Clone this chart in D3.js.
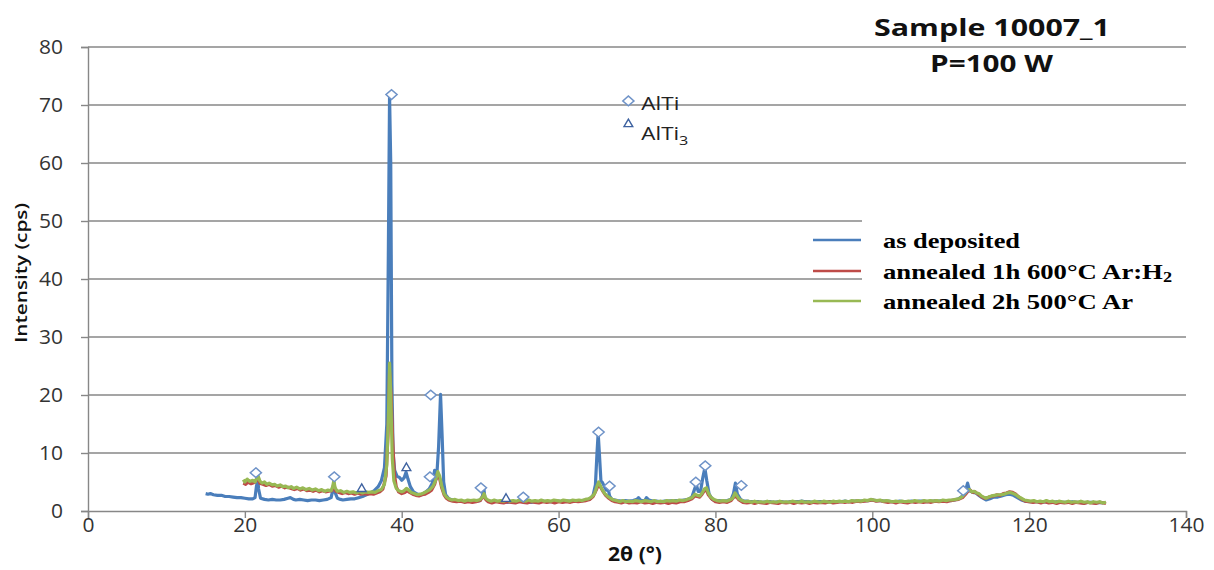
<!DOCTYPE html>
<html>
<head>
<meta charset="utf-8">
<script src="https://cdn.jsdelivr.net/npm/d3@7"></script>
<style>
  html, body { margin: 0; padding: 0; background: #fff; }
  svg { display: block; }
</style>
</head>
<body>
<svg id="chart" width="1214" height="570"></svg>
<script>
// XRD patterns of sample 10007_1 (P = 100 W): [2θ in degrees, intensity in cps]
const asDeposited = [
  [15.0,3.0],[15.3,2.9],[15.6,3.0],[16.0,2.8],[16.5,2.7],[17.0,2.7],[17.5,2.5],[18.0,2.5],[18.5,2.4],[19.0,2.3],
  [19.5,2.3],[20.0,2.2],[20.5,2.1],[21.0,2.1],[21.3,2.3],[21.5,4.5],[21.6,6.4],[21.75,3.8],[22.0,2.2],[22.5,2.0],
  [23.0,1.9],[23.5,2.0],[24.0,1.9],[24.5,1.9],[25.0,2.0],[25.5,2.2],[25.8,2.3],[26.2,2.0],[26.5,1.9],[27.0,2.0],
  [27.5,1.9],[28.0,1.8],[28.5,1.9],[29.0,1.9],[29.5,1.8],[30.0,1.9],[30.5,2.0],[31.0,2.3],[31.2,3.5],[31.35,4.9],
  [31.5,3.2],[31.8,2.2],[32.2,2.0],[32.5,1.9],[33.0,2.0],[33.5,2.1],[34.0,2.1],[34.5,2.3],[35.0,2.5],[35.5,2.8],
  [36.0,3.1],[36.5,3.5],[37.0,4.2],[37.4,5.2],[37.8,7.5],[38.1,15],[38.3,45],[38.45,71.5],[38.6,60],[38.75,22],
  [38.9,10],[39.1,7.0],[39.4,6.0],[39.7,5.8],[40.0,5.3],[40.3,5.7],[40.55,6.7],[40.8,5.5],[41.1,4.2],[41.5,3.3],
  [42.0,2.9],[42.5,2.8],[43.0,3.2],[43.5,3.8],[43.9,4.8],[44.2,7.0],[44.45,5.6],[44.7,11],[44.95,20.1],[45.15,13],
  [45.35,5.0],[45.6,2.8],[46.0,2.1],[46.5,1.9],[47.0,1.8],[47.5,1.7],[48.0,1.6],[48.5,1.7],[49.0,1.6],[49.5,1.7],
  [50.0,1.8],[50.3,2.6],[50.45,4.1],[50.6,2.4],[50.9,1.8],[51.5,1.6],[52.0,1.7],[52.5,1.6],[53.0,1.6],[53.5,1.5],
  [54.0,1.6],[54.5,1.6],[55.0,1.7],[55.5,1.6],[56.0,1.6],[56.5,1.5],[57.0,1.6],[57.5,1.6],[58.0,1.7],[58.5,1.6],
  [59.0,1.6],[59.5,1.6],[60.0,1.7],[60.5,1.6],[61.0,1.7],[61.5,1.7],[62.0,1.7],[62.5,1.8],[63.0,1.8],[63.5,1.9],
  [64.0,2.1],[64.4,2.7],[64.7,4.5],[64.9,10],[65.05,13.4],[65.2,10],[65.4,5.2],[65.6,4.9],[65.85,4.2],[66.1,3.6],
  [66.3,4.0],[66.5,2.6],[66.8,2.0],[67.2,1.9],[67.5,1.8],[68.0,1.7],[68.5,1.8],[69.0,1.7],[69.5,1.8],[70.0,2.0],
  [70.2,2.3],[70.5,1.8],[71.0,1.8],[71.2,2.3],[71.5,1.9],[72.0,1.7],[72.5,1.7],[73.0,1.6],[73.5,1.7],[74.0,1.7],
  [74.5,1.8],[75.0,1.8],[75.5,1.8],[76.0,1.9],[76.5,2.0],[77.0,2.4],[77.3,3.6],[77.55,4.6],[77.8,3.4],[78.1,3.4],
  [78.4,5.8],[78.65,7.4],[78.9,5.2],[79.2,2.9],[79.6,2.0],[80.0,1.8],[80.5,1.8],[81.0,1.7],[81.5,1.8],[82.0,2.0],
  [82.3,3.0],[82.55,4.8],[82.8,2.9],[83.2,2.0],[83.6,1.7],[84.0,1.7],[84.5,1.6],[85.0,1.6],[85.5,1.6],[86.0,1.5],
  [86.5,1.6],[87.0,1.6],[87.5,1.5],[88.0,1.6],[88.5,1.6],[89.0,1.5],[89.5,1.6],[90.0,1.6],[90.5,1.6],[91.0,1.7],
  [91.5,1.6],[92.0,1.6],[92.5,1.5],[93.0,1.6],[93.5,1.6],[94.0,1.5],[94.5,1.6],[95.0,1.6],[95.5,1.6],[96.0,1.6],
  [96.5,1.7],[97.0,1.6],[97.5,1.7],[98.0,1.7],[98.5,1.7],[99.0,1.8],[99.5,1.8],[100.0,1.9],[100.5,1.8],[101.0,1.8],
  [101.5,1.7],[102.0,1.7],[102.5,1.6],[103.0,1.6],[103.5,1.7],[104.0,1.6],[104.5,1.6],[105.0,1.7],[105.5,1.6],[106.0,1.7],
  [106.5,1.7],[107.0,1.6],[107.5,1.7],[108.0,1.7],[108.5,1.7],[109.0,1.8],[109.5,1.8],[110.0,1.8],[110.5,1.9],[111.0,2.1],
  [111.5,2.6],[111.9,3.6],[112.15,4.8],[112.4,3.5],[112.8,3.2],[113.2,3.1],[113.6,2.7],[114.0,2.3],[114.5,1.9],[115.0,2.1],
  [115.5,2.4],[116.0,2.4],[116.5,2.6],[117.0,2.8],[117.5,2.9],[118.0,2.7],[118.5,2.3],[119.0,1.9],[119.5,1.7],[120.0,1.6],
  [120.5,1.6],[121.0,1.6],[121.5,1.5],[122.0,1.6],[122.5,1.5],[123.0,1.5],[123.5,1.6],[124.0,1.5],[124.5,1.5],[125.0,1.5],
  [125.5,1.6],[126.0,1.5],[126.5,1.5],[127.0,1.4],[127.5,1.5],[128.0,1.5],[128.5,1.4],[129.0,1.5],[129.5,1.4]
];

const annealed600ArH2 = [
  [19.8,4.8],[20.1,4.6],[20.4,5.0],[20.8,4.7],[21.2,4.9],[21.5,5.3],[21.7,5.8],[21.9,4.8],[22.3,4.6],[22.7,4.4],
  [23.1,4.6],[23.5,4.3],[23.9,4.4],[24.3,4.1],[24.7,4.3],[25.1,4.0],[25.5,4.1],[25.9,3.9],[26.3,3.7],[26.7,3.9],
  [27.1,3.6],[27.5,3.8],[27.9,3.5],[28.3,3.6],[28.7,3.4],[29.1,3.6],[29.5,3.3],[29.9,3.5],[30.3,3.3],[30.7,3.4],
  [31.1,3.5],[31.35,4.6],[31.6,3.4],[32.0,3.2],[32.4,3.0],[32.8,3.2],[33.2,3.0],[33.6,3.1],[34.0,2.9],[34.4,3.1],
  [34.8,2.9],[35.2,3.0],[35.6,2.9],[36.0,3.0],[36.4,2.9],[36.8,3.1],[37.2,3.3],[37.6,3.8],[38.0,6.0],[38.25,13],
  [38.45,24],[38.65,20],[38.85,12.2],[39.05,6.5],[39.3,4.2],[39.6,3.3],[40.0,3.0],[40.4,3.2],[40.7,3.5],[41.0,3.2],
  [41.4,2.9],[41.8,2.7],[42.2,2.6],[42.6,2.8],[43.0,2.9],[43.4,3.2],[43.8,3.6],[44.2,4.6],[44.55,6.4],[44.8,5.8],
  [45.1,4.0],[45.4,2.8],[45.7,2.2],[46.0,1.9],[46.5,1.7],[47.0,1.6],[47.5,1.7],[48.0,1.5],[48.5,1.6],[49.0,1.5],
  [49.5,1.6],[50.0,1.8],[50.4,2.6],[50.7,2.0],[51.0,1.6],[51.5,1.4],[52.0,1.6],[52.5,1.5],[53.0,1.4],[53.5,1.6],
  [54.0,1.5],[54.5,1.4],[55.0,1.6],[55.5,1.5],[56.0,1.4],[56.5,1.6],[57.0,1.5],[57.5,1.4],[58.0,1.6],[58.5,1.5],
  [59.0,1.6],[59.5,1.4],[60.0,1.6],[60.5,1.5],[61.0,1.6],[61.5,1.5],[62.0,1.7],[62.5,1.6],[63.0,1.7],[63.5,1.8],
  [64.0,2.0],[64.4,2.5],[64.8,3.6],[65.1,4.6],[65.4,4.0],[65.7,3.3],[66.0,2.7],[66.4,2.2],[66.8,1.8],[67.2,1.6],
  [67.6,1.5],[68.0,1.4],[68.5,1.6],[69.0,1.4],[69.5,1.5],[70.0,1.4],[70.5,1.6],[71.0,1.4],[71.5,1.5],[72.0,1.3],
  [72.5,1.5],[73.0,1.4],[73.5,1.5],[74.0,1.3],[74.5,1.5],[75.0,1.4],[75.5,1.6],[76.0,1.6],[76.5,1.8],[77.0,2.1],
  [77.4,2.6],[77.7,2.5],[78.0,2.4],[78.3,2.9],[78.6,3.5],[78.85,3.6],[79.1,2.8],[79.5,2.1],[80.0,1.6],[80.5,1.5],
  [81.0,1.6],[81.5,1.5],[82.0,1.8],[82.4,2.5],[82.7,2.4],[83.0,1.9],[83.5,1.5],[84.0,1.4],[84.5,1.5],[85.0,1.3],
  [85.5,1.5],[86.0,1.4],[86.5,1.3],[87.0,1.5],[87.5,1.4],[88.0,1.3],[88.5,1.5],[89.0,1.4],[89.5,1.5],[90.0,1.3],
  [90.5,1.5],[91.0,1.4],[91.5,1.5],[92.0,1.3],[92.5,1.5],[93.0,1.4],[93.5,1.5],[94.0,1.4],[94.5,1.6],[95.0,1.4],
  [95.5,1.5],[96.0,1.6],[96.5,1.5],[97.0,1.6],[97.5,1.5],[98.0,1.7],[98.5,1.6],[99.0,1.7],[99.5,1.8],[100.0,1.9],
  [100.5,1.7],[101.0,1.8],[101.5,1.6],[102.0,1.5],[102.5,1.6],[103.0,1.4],[103.5,1.6],[104.0,1.5],[104.5,1.4],[105.0,1.6],
  [105.5,1.5],[106.0,1.6],[106.5,1.5],[107.0,1.6],[107.5,1.5],[108.0,1.7],[108.5,1.6],[109.0,1.7],[109.5,1.6],[110.0,1.8],
  [110.5,1.9],[111.0,2.0],[111.5,2.3],[111.9,2.9],[112.2,3.4],[112.5,3.6],[112.8,3.2],[113.1,3.3],[113.5,2.9],[113.9,2.5],
  [114.3,2.2],[114.7,2.3],[115.1,2.5],[115.5,2.6],[115.9,2.8],[116.3,2.7],[116.7,3.0],[117.1,3.1],[117.5,3.3],[117.9,3.2],
  [118.3,2.9],[118.7,2.4],[119.1,2.0],[119.5,1.7],[120.0,1.6],[120.5,1.5],[121.0,1.6],[121.5,1.4],[122.0,1.6],[122.5,1.4],
  [123.0,1.5],[123.5,1.3],[124.0,1.5],[124.5,1.4],[125.0,1.5],[125.5,1.3],[126.0,1.5],[126.5,1.4],[127.0,1.3],[127.5,1.5],
  [128.0,1.4],[128.5,1.3],[129.0,1.5],[129.5,1.4],[129.8,1.3]
];

const annealed500Ar = [
  [19.8,5.4],[20.0,5.0],[20.3,5.5],[20.6,5.1],[21.0,5.3],[21.3,5.0],[21.5,5.6],[21.7,6.0],[21.9,5.2],[22.2,4.8],
  [22.5,5.0],[22.8,4.6],[23.1,4.8],[23.5,4.5],[23.8,4.6],[24.1,4.3],[24.5,4.5],[24.8,4.2],[25.2,4.3],[25.5,4.0],
  [25.9,4.2],[26.2,3.9],[26.6,4.1],[27.0,3.8],[27.4,4.0],[27.8,3.7],[28.2,3.9],[28.6,3.6],[29.0,3.8],[29.4,3.5],
  [29.8,3.7],[30.2,3.4],[30.6,3.6],[31.0,3.5],[31.2,4.2],[31.35,5.3],[31.5,4.0],[31.8,3.4],[32.2,3.5],[32.6,3.2],
  [33.0,3.4],[33.4,3.2],[33.8,3.3],[34.2,3.1],[34.6,3.3],[35.0,3.1],[35.4,3.3],[35.8,3.2],[36.2,3.3],[36.6,3.2],
  [37.0,3.5],[37.4,3.7],[37.8,4.6],[38.1,8.0],[38.3,16],[38.45,25.5],[38.6,20],[38.8,9.0],[39.0,5.2],[39.3,3.9],
  [39.6,3.5],[40.0,3.3],[40.3,3.5],[40.6,3.9],[40.9,3.6],[41.2,3.2],[41.6,3.0],[42.0,2.8],[42.4,2.9],[42.8,3.1],
  [43.2,3.4],[43.6,3.7],[44.0,4.3],[44.3,5.2],[44.6,6.8],[44.85,6.0],[45.1,4.3],[45.4,3.0],[45.7,2.4],[46.0,2.1],
  [46.4,1.9],[46.8,2.0],[47.2,1.8],[47.6,1.9],[48.0,1.7],[48.4,1.9],[48.8,1.8],[49.2,1.9],[49.6,1.8],[50.0,2.0],
  [50.3,2.4],[50.5,3.0],[50.7,2.2],[51.0,1.9],[51.4,1.7],[51.8,1.9],[52.2,1.7],[52.6,1.8],[53.0,1.7],[53.4,1.9],
  [53.8,1.7],[54.2,1.8],[54.6,1.7],[55.0,1.9],[55.4,1.8],[55.8,1.7],[56.2,1.9],[56.6,1.7],[57.0,1.8],[57.4,1.7],
  [57.8,1.9],[58.2,1.7],[58.6,1.8],[59.0,1.7],[59.4,1.9],[59.8,1.8],[60.2,1.7],[60.6,1.9],[61.0,1.8],[61.4,1.7],
  [61.8,1.9],[62.2,1.8],[62.6,1.9],[63.0,1.8],[63.4,2.0],[63.8,2.1],[64.2,2.4],[64.6,3.0],[64.9,4.3],[65.1,5.0],
  [65.35,4.3],[65.6,3.6],[65.9,3.0],[66.2,2.6],[66.6,2.2],[67.0,1.9],[67.4,1.8],[67.8,1.6],[68.2,1.8],[68.6,1.6],
  [69.0,1.7],[69.4,1.6],[69.8,1.8],[70.2,1.7],[70.6,1.6],[71.0,1.8],[71.4,1.7],[71.8,1.6],[72.2,1.8],[72.6,1.6],
  [73.0,1.7],[73.4,1.6],[73.8,1.8],[74.2,1.7],[74.6,1.8],[75.0,1.7],[75.4,1.9],[75.8,1.8],[76.2,1.9],[76.6,2.1],
  [77.0,2.3],[77.4,2.9],[77.7,2.7],[78.0,2.6],[78.3,3.1],[78.6,3.8],[78.85,4.0],[79.1,3.1],[79.4,2.4],[79.8,2.0],
  [80.2,1.8],[80.6,1.7],[81.0,1.8],[81.4,1.7],[81.8,1.9],[82.2,2.2],[82.5,3.1],[82.75,2.6],[83.0,2.1],[83.4,1.8],
  [83.8,1.6],[84.2,1.7],[84.6,1.5],[85.0,1.7],[85.4,1.5],[85.8,1.6],[86.2,1.5],[86.6,1.7],[87.0,1.5],[87.4,1.6],
  [87.8,1.5],[88.2,1.7],[88.6,1.5],[89.0,1.6],[89.4,1.5],[89.8,1.7],[90.2,1.6],[90.6,1.5],[91.0,1.7],[91.4,1.5],
  [91.8,1.6],[92.2,1.5],[92.6,1.7],[93.0,1.6],[93.4,1.5],[93.8,1.7],[94.2,1.6],[94.6,1.5],[95.0,1.7],[95.4,1.6],
  [95.8,1.7],[96.2,1.6],[96.6,1.7],[97.0,1.6],[97.4,1.8],[97.8,1.7],[98.2,1.8],[98.6,1.7],[99.0,1.9],[99.4,1.8],
  [99.8,2.0],[100.2,1.9],[100.6,1.8],[101.0,1.9],[101.4,1.7],[101.8,1.8],[102.2,1.7],[102.6,1.6],[103.0,1.7],[103.4,1.6],
  [103.8,1.7],[104.2,1.6],[104.6,1.7],[105.0,1.6],[105.4,1.8],[105.8,1.7],[106.2,1.6],[106.6,1.8],[107.0,1.7],[107.4,1.8],
  [107.8,1.7],[108.2,1.8],[108.6,1.7],[109.0,1.9],[109.4,1.8],[109.8,1.9],[110.2,1.9],[110.6,2.0],[111.0,2.1],[111.4,2.4],
  [111.8,3.0],[112.1,3.5],[112.4,3.7],[112.7,3.3],[113.0,3.4],[113.3,3.1],[113.6,3.0],[113.9,2.6],[114.2,2.4],[114.5,2.2],
  [114.8,2.4],[115.2,2.6],[115.6,2.7],[116.0,2.8],[116.4,2.8],[116.8,2.9],[117.2,3.1],[117.6,3.2],[118.0,3.0],[118.3,2.8],
  [118.6,2.5],[119.0,2.2],[119.4,1.9],[119.8,1.8],[120.2,1.7],[120.6,1.8],[121.0,1.6],[121.4,1.7],[121.8,1.6],[122.2,1.8],
  [122.6,1.6],[123.0,1.7],[123.4,1.5],[123.8,1.7],[124.2,1.6],[124.6,1.5],[125.0,1.7],[125.4,1.5],[125.8,1.6],[126.2,1.5],
  [126.6,1.7],[127.0,1.5],[127.4,1.6],[127.8,1.4],[128.2,1.6],[128.6,1.5],[129.0,1.6],[129.4,1.4],[129.8,1.5]
];

// Phase identification markers [2θ, cps]
const alTiPeaks = [
  [21.4,6.6],[31.4,5.9],[38.7,71.8],[43.7,20.0],[43.6,5.9],[50.1,4.0],[55.5,2.4],
  [65.1,13.6],[66.5,4.3],[77.5,5.0],[78.7,7.8],[83.3,4.4],[111.6,3.5]
];
const alTi3Peaks = [[34.9,3.8],[40.6,7.4],[53.3,2.1]];

// Phase key position [2θ, cps]
const phaseKey = [
  { symbol: "diamond", at: [68.9, 70.7], label: "AlTi", sub: "" },
  { symbol: "triangle", at: [68.9, 66.7], label: "AlTi", sub: "3" }
];

const xTicks = [0, 20, 40, 60, 80, 100, 120, 140];
const yTicks = [0, 10, 20, 30, 40, 50, 60, 70, 80];

const seriesNames = ["as deposited", "annealed 1h 600°C Ar:H", "annealed 2h 500°C Ar"];
const seriesSubs = ["", "2", ""];
const seriesColors = ["#4A7EBB", "#BE4B48", "#98B954"];
const seriesData = [asDeposited, annealed600ArH2, annealed500Ar];

const titleLines = ["Sample 10007_1", "P=100 W"];
const xLabel = "2θ (°)";
const yLabel = "Intensity (cps)";

// ---------------------------------------------------------------------------
const svg = d3.select("#chart");
const x = d3.scaleLinear().domain([0, 140]).range([88, 1186]);
const y = d3.scaleLinear().domain([0, 80]).range([511, 47]);
const gridColor = "#878787";
const tickFont = "'Open Sans', 'Liberation Sans', sans-serif";

// horizontal gridlines
svg.append("g").selectAll("line").data(yTicks.filter(d => d > 0)).join("line")
  .attr("x1", x(0)).attr("x2", x(140))
  .attr("y1", d => y(d)).attr("y2", d => y(d))
  .attr("stroke", gridColor).attr("stroke-width", 1.4);

// y axis
const yAxis = svg.append("g").attr("transform", `translate(${x(0)},0)`)
  .call(d3.axisLeft(y).tickValues(yTicks).tickSize(7).tickPadding(8));
// x axis
const xAxis = svg.append("g").attr("transform", `translate(0,${y(0)})`)
  .call(d3.axisBottom(x).tickValues(xTicks).tickSize(7).tickPadding(8));

[yAxis, xAxis].forEach(g => {
  g.select(".domain").attr("stroke", gridColor).attr("stroke-width", 1.4);
  g.selectAll(".tick line").attr("stroke", gridColor).attr("stroke-width", 1.4);
  g.selectAll(".tick text")
    .attr("font-family", tickFont).attr("font-size", 20).attr("fill", "#333")
    .attr("textLength", d => String(d).length * 12)
    .attr("lengthAdjust", "spacingAndGlyphs");
});
yAxis.selectAll(".tick text").attr("x", -25);
xAxis.selectAll(".tick text").attr("y", 7).attr("dy", "0.71em");

// legend box (covers gridlines behind it)
svg.append("rect").attr("x", 862).attr("y", 217).attr("width", 340).attr("height", 97).attr("fill", "#fff");

// data series
const line = d3.line().x(d => x(d[0])).y(d => y(d[1]));
svg.append("g").selectAll("path").data(seriesData).join("path")
  .attr("d", line)
  .attr("fill", "none")
  .attr("stroke", (d, i) => seriesColors[i])
  .attr("stroke-width", 3.2)
  .attr("stroke-linejoin", "round");

// phase markers
const diamond = d3.symbol().type(d3.symbolDiamond2).size(60);
const triangle = d3.symbol().type(d3.symbolTriangle2).size(55);

svg.append("g").selectAll("path").data(alTiPeaks).join("path")
  .attr("d", diamond)
  .attr("transform", d => `translate(${x(d[0])},${y(d[1])}) scale(1.15,1)`)
  .attr("fill", "#fff").attr("stroke", "#6F93C8").attr("stroke-width", 1.4);

svg.append("g").selectAll("path").data(alTi3Peaks).join("path")
  .attr("d", triangle)
  .attr("transform", d => `translate(${x(d[0])},${y(d[1])})`)
  .attr("fill", "#fff").attr("stroke", "#3E62A0").attr("stroke-width", 1.4);

// phase key
const key = svg.append("g");
phaseKey.forEach(k => {
  const px = x(k.at[0]), py = y(k.at[1]);
  key.append("path")
    .attr("d", k.symbol === "diamond" ? diamond : triangle)
    .attr("transform", `translate(${px},${py})${k.symbol === "diamond" ? " scale(1.15,1)" : ""}`)
    .attr("fill", "#fff")
    .attr("stroke", k.symbol === "diamond" ? "#6F93C8" : "#3E62A0")
    .attr("stroke-width", 1.4);
  const t = key.append("text")
    .attr("x", px + 13).attr("y", py + (k.sub ? 16 : 9))
    .attr("font-family", tickFont).attr("font-size", 18).attr("fill", "#222")
    .attr("textLength", k.sub ? 47 : 38).attr("lengthAdjust", "spacingAndGlyphs");
  t.append("tspan").text(k.label);
  if (k.sub) t.append("tspan").attr("dy", 5).attr("font-size", 13).text(k.sub);
});

// series legend
const legend = svg.append("g");
const legendRows = [240, 271, 301];
const legendTextWidth = [137, 289, 250];
seriesNames.forEach((name, i) => {
  legend.append("line")
    .attr("x1", 813).attr("x2", 861)
    .attr("y1", legendRows[i]).attr("y2", legendRows[i])
    .attr("stroke", seriesColors[i]).attr("stroke-width", 2.4);
  const t = legend.append("text")
    .attr("x", 883).attr("y", legendRows[i] + 3)
    .attr("font-family", "'Liberation Serif', 'Times New Roman', serif")
    .attr("font-weight", "bold").attr("font-size", 22).attr("fill", "#000")
    .attr("dominant-baseline", "middle")
    .attr("textLength", legendTextWidth[i]).attr("lengthAdjust", "spacingAndGlyphs");
  t.append("tspan").text(name);
  if (seriesSubs[i]) t.append("tspan").attr("dy", 5).attr("font-size", 15).text(seriesSubs[i]);
});

// title
const titleFont = "'Open Sans', 'Liberation Sans', sans-serif";
svg.append("text").attr("x", 874).attr("y", 36)
  .attr("font-family", titleFont).attr("font-weight", "bold").attr("font-size", 23).attr("fill", "#111")
  .attr("textLength", 236).attr("lengthAdjust", "spacingAndGlyphs")
  .text(titleLines[0]);
svg.append("text").attr("x", 930).attr("y", 72)
  .attr("font-family", titleFont).attr("font-weight", "bold").attr("font-size", 23).attr("fill", "#111")
  .attr("textLength", 123).attr("lengthAdjust", "spacingAndGlyphs")
  .text(titleLines[1]);

// axis titles
svg.append("text")
  .attr("transform", "translate(27,273) rotate(-90)")
  .attr("text-anchor", "middle")
  .attr("font-family", tickFont).attr("font-weight", 600).attr("font-size", 17).attr("fill", "#111")
  .attr("textLength", 140).attr("lengthAdjust", "spacingAndGlyphs")
  .text(yLabel);
svg.append("text")
  .attr("x", 635).attr("y", 561).attr("text-anchor", "middle")
  .attr("font-family", tickFont).attr("font-weight", "bold").attr("font-size", 19).attr("fill", "#111")
  .attr("textLength", 54).attr("lengthAdjust", "spacingAndGlyphs")
  .text(xLabel);
</script>
</body>
</html>
